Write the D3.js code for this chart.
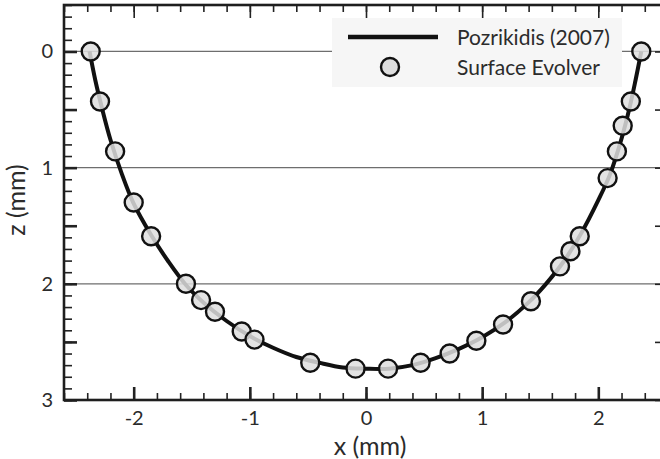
<!DOCTYPE html>
<html>
<head>
<meta charset="utf-8">
<script src="https://cdn.jsdelivr.net/npm/d3@7"></script>
<style>
  body { margin: 0; background: #fff; }
  text { font-family: Lato, "Open Sans", sans-serif; fill: #2b2b2b; }
</style>
</head>
<body>
<svg class="chart"></svg>
<script>
var width = 660, height = 459;

// Pozrikidis (2007) profile (x mm, z mm)
var lineX = [-2.38, -2.33, -2.27, -2.20, -2.10, -2.00, -1.85, -1.70, -1.55, -1.40, -1.20, -1.00, -0.80, -0.60, -0.40, -0.20, 0.00, 0.20, 0.40, 0.60, 0.80, 1.00, 1.20, 1.40, 1.55, 1.70, 1.85, 2.00, 2.10, 2.20, 2.27, 2.32, 2.37];
var lineZ = [0.00, 0.25, 0.50, 0.76, 1.06, 1.31, 1.58, 1.81, 2.01, 2.16, 2.32, 2.45, 2.55, 2.63, 2.68, 2.72, 2.73, 2.73, 2.70, 2.64, 2.56, 2.46, 2.33, 2.16, 2.00, 1.81, 1.57, 1.28, 1.06, 0.75, 0.48, 0.25, 0.00];

// Surface Evolver points
var ptX = [-2.37, -2.29, -2.16, -2.00, -1.85, -1.55, -1.42, -1.30, -1.07, -0.96, -0.48, -0.09, 0.19, 0.47, 0.72, 0.95, 1.18, 1.42, 1.67, 1.76, 1.84, 2.08, 2.16, 2.21, 2.28, 2.37];
var ptZ = [0.00, 0.43, 0.86, 1.30, 1.59, 2.00, 2.14, 2.24, 2.41, 2.48, 2.68, 2.73, 2.73, 2.68, 2.60, 2.49, 2.35, 2.15, 1.85, 1.72, 1.59, 1.09, 0.86, 0.64, 0.43, 0.00];

var xTicks = [-2, -1, 0, 1, 2];
var zTicks = [0, 1, 2, 3];
var gridZ = [0, 1, 2];
var legendLabels = ["Pozrikidis (2007)", "Surface Evolver"];

var margin = {top: 5, right: -8, bottom: 59, left: 64};

var x = d3.scaleLinear()
  .domain([-2.6, 2.6])
  .range([margin.left, width - margin.right]);

var y = d3.scaleLinear()
  .domain([-0.4, 3])
  .range([margin.top, height - margin.bottom]);

var svg = d3.select(".chart")
  .attr("width", width)
  .attr("height", height);

var xMinor = d3.range(-26, 27, 2).map(d => d / 10);
var zMinor = d3.range(-4, 31).map(d => d / 10);
var zMid = d3.range(0, 7).map(d => d / 2);

// grid lines
svg.append("g")
  .selectAll("line").data(gridZ).enter().append("line")
    .attr("x1", x.range()[0]).attr("x2", x.range()[1])
    .attr("y1", d => y(d)).attr("y2", d => y(d))
    .attr("stroke", "#6e6e6e").attr("stroke-width", 1.3);

function tickAxis(axisFn, scale, vals, size, tr) {
  svg.append("g")
    .attr("transform", tr)
    .call(axisFn(scale).tickValues(vals).tickSizeInner(-size).tickSizeOuter(0).tickFormat(""))
    .call(g => g.select(".domain").remove())
    .call(g => g.selectAll("line").attr("stroke", "#222").attr("stroke-width", 1.6));
}

var bottomY = y.range()[1], topY = y.range()[0];
var leftX = x.range()[0], rightX = x.range()[1];

// minor ticks
tickAxis(d3.axisBottom, x, xMinor, 7, `translate(0,${bottomY})`);
tickAxis(d3.axisTop, x, xMinor, 7, `translate(0,${topY})`);
tickAxis(d3.axisLeft, y, zMinor, 8, `translate(${leftX},0)`);
tickAxis(d3.axisRight, y, zMinor, 8, `translate(${rightX},0)`);
// major ticks
tickAxis(d3.axisTop, x, xTicks, 13, `translate(0,${topY})`);
tickAxis(d3.axisRight, y, zMid, 13, `translate(${rightX},0)`);

svg.append("g")
  .attr("transform", `translate(0,${bottomY})`)
  .call(d3.axisBottom(x).tickValues(xTicks).tickSizeInner(-13).tickSizeOuter(0).tickPadding(11)
    .tickFormat(d => d < 0 ? "-" + Math.abs(d) : d))
  .call(g => g.select(".domain").remove())
  .call(g => g.selectAll("line").attr("stroke", "#222").attr("stroke-width", 2.6))
  .call(g => g.selectAll("text").attr("font-size", 20).style("font-family", "Lato, sans-serif"));

svg.append("g")
  .attr("transform", `translate(${leftX},0)`)
  .call(d3.axisLeft(y).tickValues(zMid).tickSizeInner(-13).tickSizeOuter(0).tickPadding(11)
    .tickFormat(d => Number.isInteger(d) ? d : ""))
  .call(g => g.select(".domain").remove())
  .call(g => g.selectAll("line").attr("stroke", "#222").attr("stroke-width", 2.6))
  .call(g => g.selectAll("text").attr("font-size", 20).style("font-family", "Lato, sans-serif"));

// frame
svg.append("rect")
  .attr("x", leftX).attr("y", topY)
  .attr("width", rightX - leftX).attr("height", bottomY - topY)
  .attr("fill", "none").attr("stroke", "#1e1e1e").attr("stroke-width", 2.6);

// curve
var lineData = lineX.map((d, i) => [d, lineZ[i]]);
svg.append("path")
  .datum(lineData)
  .attr("fill", "none")
  .attr("stroke", "#111")
  .attr("stroke-width", 4)
  .attr("d", d3.line().x(d => x(d[0])).y(d => y(d[1])).curve(d3.curveCatmullRom));

// markers
var pts = ptX.map((d, i) => [d, ptZ[i]]);
svg.append("g")
  .selectAll("circle").data(pts).enter().append("circle")
    .attr("cx", d => x(d[0]))
    .attr("cy", d => y(d[1]))
    .attr("r", 9)
    .attr("fill", "#dedede").attr("fill-opacity", 0.85)
    .attr("stroke", "#111").attr("stroke-width", 2.4);

// legend
var lg = svg.append("g");
lg.append("rect")
  .attr("x", 332).attr("y", 18).attr("width", 290).attr("height", 69)
  .attr("fill", "#f6f6f6");
lg.append("line")
  .attr("x1", 348).attr("x2", 438).attr("y1", 37).attr("y2", 37)
  .attr("stroke", "#111").attr("stroke-width", 4.5);
lg.append("circle")
  .attr("cx", 390).attr("cy", 67).attr("r", 9)
  .attr("fill", "#dedede").attr("stroke", "#111").attr("stroke-width", 2.4);
lg.selectAll("text").data(legendLabels).enter().append("text")
  .attr("x", 457)
  .attr("y", (d, i) => 45 + i * 30)
  .attr("font-size", 21)
  .text(d => d);

// axis titles
svg.append("text")
  .attr("x", 370).attr("y", 455)
  .attr("text-anchor", "middle")
  .attr("font-size", 25)
  .text("x (mm)");

svg.append("text")
  .attr("transform", "translate(25,200) rotate(-90)")
  .attr("text-anchor", "middle")
  .attr("font-size", 25)
  .text("z (mm)");
</script>
</body>
</html>
